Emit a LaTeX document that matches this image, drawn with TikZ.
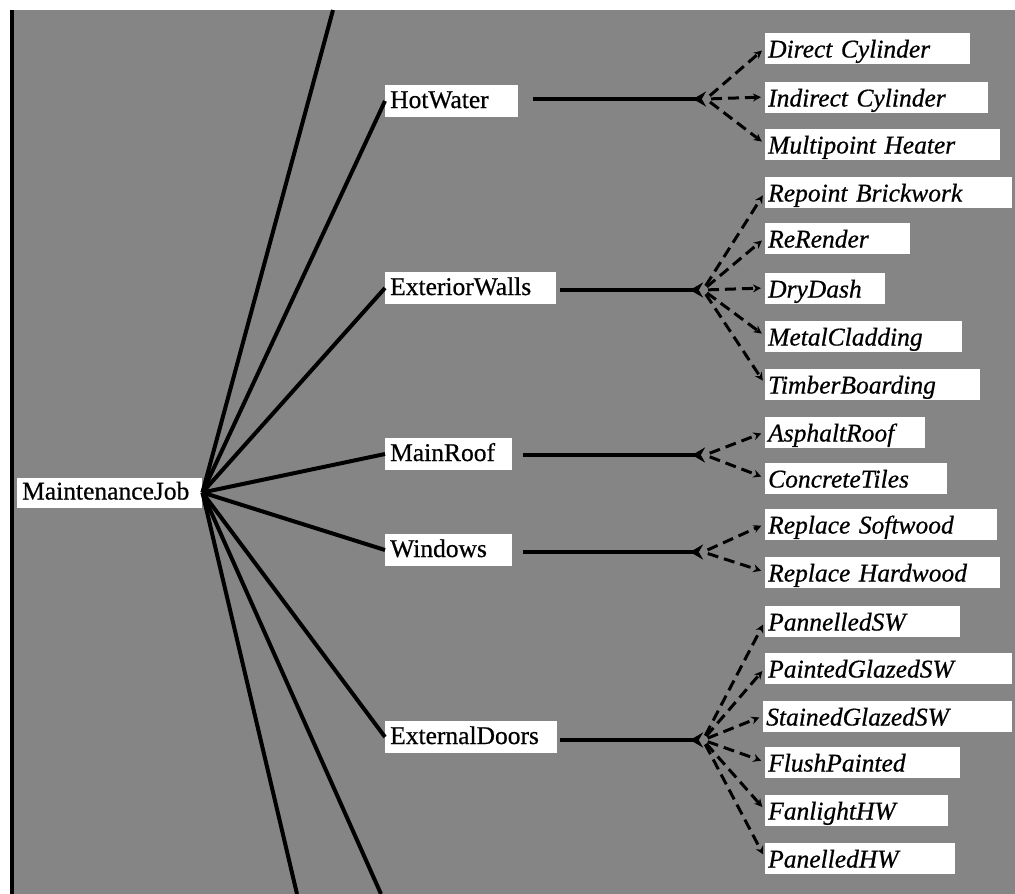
\documentclass[tikz,border=0pt]{standalone}
\usepackage{fontspec}
\setmainfont{Liberation Serif}
\newfontfamily\labfont[FakeBold=0.6]{Liberation Serif}
\usetikzlibrary{arrows.meta}
\definecolor{bggray}{gray}{0.52}
\tikzset{
  mid/.style={fill=white, anchor=west, inner xsep=5pt, inner ysep=0pt, text height=23pt, text depth=9pt, font=\labfont\fontsize{25.5}{30}\selectfont, align=left},
  sub/.style={fill=white, anchor=west, inner xsep=3pt, inner ysep=0pt, text height=25pt, text depth=6pt, font=\labfont\fontsize{25.5}{30}\selectfont\itshape, align=left},
  link/.style={line width=4pt, black},
  bar/.style={line width=3.5pt, black, -{Stealth[reversed,length=13pt,width=15pt]}},
  sublink/.style={line width=3pt, black, dash pattern=on 11pt off 6pt, -{Stealth[length=8pt,width=8pt]}, shorten <=5pt, shorten >=4pt}
}
\begin{document}
\begin{tikzpicture}[x=1pt,y=-1pt]
\useasboundingbox (0,0) rectangle (1015,894);
\fill[bggray] (10,10) rectangle (1015,894);
\fill[black] (10,10) rectangle (14,894);

% main nodes
\node[mid, text width=175pt, text height=22pt, text depth=8pt] (MJ) at (17,492.5) {MaintenanceJob};
\node[mid, text width=123pt] (HW) at (385,101) {HotWater};
\node[mid, text width=161pt] (EW) at (385,288) {ExteriorWalls};
\node[mid, text width=117pt] (MR) at (385,454) {MainRoof};
\node[mid, text width=117pt] (WI) at (385,550) {Windows};
\node[mid, text width=162pt] (ED) at (385,737) {ExternalDoors};

% subtypes
\node[sub, text width=199pt] (s1) at (765,48) {Direct Cylinder};
\node[sub, text width=217pt] (s2) at (765,97) {Indirect Cylinder};
\node[sub, text width=229pt] (s3) at (765,144) {Multipoint Heater};
\node[sub, text width=241pt] (s4) at (765,192) {Repoint Brickwork};
\node[sub, text width=139pt] (s5) at (765,238) {ReRender};
\node[sub, text width=114pt] (s6) at (765,288) {DryDash};
\node[sub, text width=191pt] (s7) at (765,336) {MetalCladding};
\node[sub, text width=209pt] (s8) at (765,384) {TimberBoarding};
\node[sub, text width=154pt] (s9) at (765,432) {AsphaltRoof};
\node[sub, text width=176pt] (s10) at (765,478) {ConcreteTiles};
\node[sub, text width=226pt] (s11) at (765,524) {Replace Softwood};
\node[sub, text width=229pt] (s12) at (765,572) {Replace Hardwood};
\node[sub, text width=189pt] (s13) at (765,621) {PannelledSW};
\node[sub, text width=241pt] (s14) at (765,668) {PaintedGlazedSW};
\node[sub, text width=243pt] (s15) at (763,716) {StainedGlazedSW};
\node[sub, text width=189pt] (s16) at (765,762) {FlushPainted};
\node[sub, text width=177pt] (s17) at (765,810) {FanlightHW};
\node[sub, text width=184pt] (s18) at (765,858) {PanelledHW};

% off-picture ends and fork points
\coordinate (top) at (333,10);
\coordinate (bot1) at (297,894);
\coordinate (bot2) at (381,894);
\coordinate (fHW) at (706,99);
\coordinate (fEW) at (703,290);
\coordinate (fMR) at (705,455);
\coordinate (fWI) at (703,552);
\coordinate (fED) at (703,740);

% fan from MaintenanceJob
\draw[link] (MJ.east) -- (top);
\draw[link] (MJ.east) -- (HW.west);
\draw[link] (MJ.east) -- (EW.west);
\draw[link] (MJ.east) -- (MR.west);
\draw[link] (MJ.east) -- (WI.west);
\draw[link] (MJ.east) -- (ED.west);
\draw[link] (MJ.east) -- (bot1);
\draw[link] (MJ.east) -- (bot2);

% horizontal bars
\draw[bar, shorten <=15pt] (HW.east |- fHW) -- (fHW);
\draw[bar, shorten <=4pt] (EW.east |- fEW) -- (fEW);
\draw[bar, shorten <=11pt] (MR.east |- fMR) -- (fMR);
\draw[bar, shorten <=11pt] (WI.east |- fWI) -- (fWI);
\draw[bar, shorten <=3pt] (ED.east |- fED) -- (fED);

% dashed subtype links
\foreach \s in {s1,s2,s3} \draw[sublink] (fHW) -- (\s.west);
\foreach \s in {s4,s5,s6,s7,s8} \draw[sublink] (fEW) -- (\s.west);
\foreach \s in {s9,s10} \draw[sublink] (fMR) -- (\s.west);
\foreach \s in {s11,s12} \draw[sublink] (fWI) -- (\s.west);
\foreach \s in {s13,s14,s15,s16,s17,s18} \draw[sublink] (fED) -- (\s.west);
\end{tikzpicture}
\end{document}
